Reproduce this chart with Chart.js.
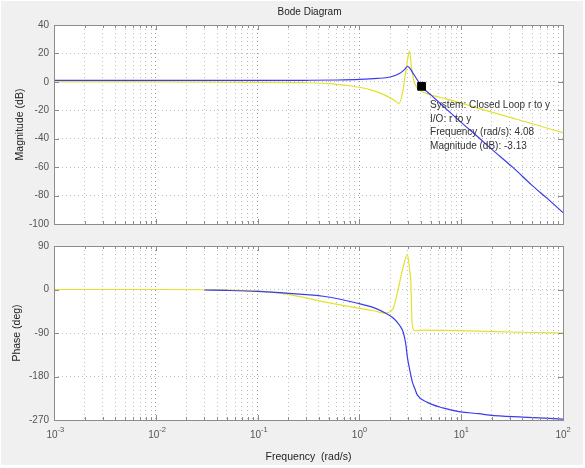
<!DOCTYPE html>
<html>
<head>
<meta charset="utf-8">
<script src="https://cdn.jsdelivr.net/npm/chart.js@4.4.0/dist/chart.umd.min.js"></script>
<style>
  html, body { margin: 0; padding: 0; background: #fff; }
  #fig { position: absolute; left: 1px; top: 1px; width: 582px; height: 464px; background: #f0f0f0; }
  canvas { position: absolute; left: 0; }
  #magCanvas { top: 0; }
  #phaseCanvas { top: 235px; }
</style>
</head>
<body>
<div id="fig"></div>
<canvas id="magCanvas" width="585" height="235"></canvas>
<canvas id="phaseCanvas" width="585" height="233"></canvas>
<script>
const FONT = '"Liberation Sans", Arial, sans-serif';

// frequency axis (rad/s)
const xDecades = [0.001, 0.01, 0.1, 1, 10, 100];
const xDecadeExponents = ['-3', '-2', '-1', '0', '1', '2'];

// magnitude (dB), closed loop r to y - blue
const magFreqBlue = [0.001, 0.01, 0.1, 0.3, 0.6, 1.0, 1.5, 2.0, 2.5, 2.8, 2.96, 3.1, 3.4, 3.7, 4.08, 5, 7, 10, 15, 20, 32, 50, 70, 100];
const magBlue     = [1.0, 1.0, 1.0, 1.1, 1.3, 1.7, 2.4, 3.4, 6.0, 9.0, 10.8, 10.0, 5.5, 1.5, -3.13, -9, -18.5, -28.5, -39.5, -47.5, -60, -73, -82, -92];

// magnitude (dB), second system - yellow
const magFreqYellow = [0.001, 0.01, 0.1, 0.3, 0.5, 0.75, 1.0, 1.35, 1.8, 2.2, 2.45, 2.65, 2.8, 2.95, 3.1, 3.25, 3.45, 3.8, 4.6, 7, 10, 15, 20, 32, 50, 100];
const magYellow     = [0, 0, -0.3, -0.6, -1.2, -2.5, -3.8, -6, -9.5, -13, -15.2, -8, 3, 14, 21.6, 10, 0, -5, -8.3, -11.8, -15, -18.8, -21.3, -25.5, -29.5, -35.8];

// phase (deg), closed loop r to y - blue
const phaseFreqBlue = [0.03, 0.05, 0.1, 0.15, 0.2, 0.44, 0.94, 1.4, 1.85, 2.15, 2.5, 2.7, 2.85, 2.96, 3.1, 3.3, 3.5, 3.7, 4.6, 6.6, 9.8, 15, 19, 40, 100];
const phaseBlue     = [-1, -2, -4, -6, -8, -14, -28, -38, -50, -59, -75, -89, -112, -140, -163, -190, -205, -218, -233, -245, -253, -257, -260, -264, -268];

// phase (deg), second system - yellow
const phaseFreqYellow = [0.001, 0.01, 0.03, 0.1, 0.2, 0.44, 0.94, 1.4, 1.78, 2.0, 2.15, 2.4, 2.7, 2.96, 3.1, 3.2, 3.3, 3.5, 4.2, 9, 20, 50, 100];
const phaseYellow     = [0, 0, -0.5, -3, -10, -25, -38, -44, -49, -46, -39, 0, 48, 72, 45, 15, -72, -85, -84, -85, -87, -89, -90];

// data tip
const tipFreq = 4.08;
const tipMag = -3.13;
const tipLines = ['System: Closed Loop r to y', 'I/O: r to y', 'Frequency (rad/s): 4.08', 'Magnitude (dB): -3.13'];

const BLUE = '#3b3bef';
const YELLOW = '#e2e22e';

const xGridTicks = xDecades.flatMap((d, i) =>
  i < xDecades.length - 1 ? [1, 2, 3, 4, 5, 6, 7, 8, 9].map(k => d * k) : [d]);

const pts = (fs, vs) => fs.map((f, i) => ({ x: f, y: vs[i] }));

const lineSet = (data, color) => ({
  data: data,
  borderColor: color,
  borderWidth: 1.2,
  pointRadius: 0,
  fill: false,
  cubicInterpolationMode: 'monotone'
});

const frame = {
  id: 'frame',
  beforeDraw(chart) {
    const { ctx, chartArea: a } = chart;
    ctx.save();
    ctx.fillStyle = '#fff';
    ctx.fillRect(a.left, a.top, a.right - a.left, a.bottom - a.top);
    ctx.restore();
  },
  afterDraw(chart, args, opts) {
    const { ctx, chartArea: a, scales } = chart;
    ctx.save();
    ctx.strokeStyle = '#8c8c8c';
    ctx.lineWidth = 1;
    ctx.beginPath();
    scales.x.ticks.forEach(t => {
      const px = Math.round(scales.x.getPixelForValue(t.value)) + 0.5;
      const len = xDecades.includes(t.value) ? 5 : 3;
      ctx.moveTo(px, a.top); ctx.lineTo(px, a.top + len);
      ctx.moveTo(px, a.bottom); ctx.lineTo(px, a.bottom - len);
    });
    scales.y.ticks.forEach(t => {
      const py = Math.round(scales.y.getPixelForValue(t.value)) + 0.5;
      ctx.moveTo(a.left, py); ctx.lineTo(a.left + 5, py);
      ctx.moveTo(a.right, py); ctx.lineTo(a.right - 5, py);
    });
    ctx.stroke();
    ctx.strokeRect(Math.round(a.left) + 0.5, Math.round(a.top) + 0.5,
      Math.round(a.right - a.left), Math.round(a.bottom - a.top));

    if (opts.title) {
      ctx.fillStyle = '#222';
      ctx.font = '10px ' + FONT;
      ctx.textAlign = 'center';
      ctx.textBaseline = 'middle';
      ctx.fillText(opts.title, (a.left + a.right) / 2 + 1, a.top - 13);
    }
    if (opts.tip) {
      const px = scales.x.getPixelForValue(tipFreq);
      const py = scales.y.getPixelForValue(tipMag);
      ctx.fillStyle = '#333';
      ctx.font = '10px ' + FONT;
      ctx.textAlign = 'left';
      ctx.textBaseline = 'middle';
      tipLines.forEach((s, i) => ctx.fillText(s, px + 8.5, py + 19 + i * 13.7));
    }
    if (opts.xLabels) {
      ctx.fillStyle = '#555';
      ctx.textBaseline = 'middle';
      xDecades.forEach((v, i) => {
        const px = scales.x.getPixelForValue(v);
        ctx.font = '10px ' + FONT;
        ctx.textAlign = 'center';
        ctx.fillText('10', px - 2, a.bottom + 15);
        ctx.font = '7.5px ' + FONT;
        ctx.textAlign = 'left';
        ctx.fillText(xDecadeExponents[i], px + 3.5, a.bottom + 10);
      });
    }
    ctx.restore();
  }
};

function xScale(showTitle) {
  return {
    type: 'logarithmic',
    min: 0.001,
    max: 100,
    afterBuildTicks: s => { s.ticks = xGridTicks.map(v => ({ value: v })); },
    afterFit: s => { s.height = showTitle ? 48 : 0; },
    ticks: { display: false },
    grid: {
      drawTicks: false,
      color: c => (c.tick && xDecades.includes(c.tick.value)) ? '#9a9a9a' : '#bdbdbd',
      lineWidth: 1
    },
    border: { display: false, dash: [1, 3] },
    title: {
      display: showTitle,
      text: 'Frequency  (rad/s)',
      color: '#222',
      font: { family: FONT, size: 10.5 },
      padding: { top: 0, bottom: 5 }
    }
  };
}

function yScale(min, max, step, label, titlePad) {
  return {
    min: min,
    max: max,
    ticks: { stepSize: step, color: '#555', padding: 5, font: { family: FONT, size: 10 } },
    afterFit: s => { s.width = 54; },
    grid: { drawTicks: false, color: '#bdbdbd', lineWidth: 1 },
    border: { display: false, dash: [1, 3] },
    title: {
      display: true,
      text: label,
      color: '#222',
      font: { family: FONT, size: 10.5 },
      padding: { top: titlePad, bottom: 0 }
    }
  };
}

const common = {
  responsive: false,
  animation: false,
  events: [],
  plugins: { legend: { display: false }, tooltip: { enabled: false } }
};

new Chart(document.getElementById('magCanvas'), {
  type: 'line',
  data: {
    datasets: [
      lineSet(pts(magFreqBlue, magBlue), BLUE),
      lineSet(pts(magFreqYellow, magYellow), YELLOW),
      {
        type: 'scatter',
        data: [{ x: tipFreq, y: tipMag }],
        pointStyle: 'rect',
        pointRadius: 5.5,
        backgroundColor: '#000',
        borderColor: '#000',
        order: -1
      }
    ]
  },
  options: {
    ...common,
    layout: { padding: { top: 25, right: 22, bottom: 7, left: 0 } },
    scales: { x: xScale(false), y: yScale(-100, 40, 20, 'Magnitude (dB)', 14) },
    plugins: { ...common.plugins, frame: { title: 'Bode Diagram', tip: true } }
  },
  plugins: [frame]
});

new Chart(document.getElementById('phaseCanvas'), {
  type: 'line',
  data: {
    datasets: [
      lineSet(pts(phaseFreqBlue, phaseBlue), BLUE),
      lineSet(pts(phaseFreqYellow, phaseYellow), YELLOW)
    ]
  },
  options: {
    ...common,
    layout: { padding: { top: 6, right: 22, bottom: 0, left: 0 } },
    scales: { x: xScale(true), y: yScale(-270, 90, 90, 'Phase (deg)', 11) },
    plugins: { ...common.plugins, frame: { xLabels: true } }
  },
  plugins: [frame]
});
</script>
</body>
</html>
